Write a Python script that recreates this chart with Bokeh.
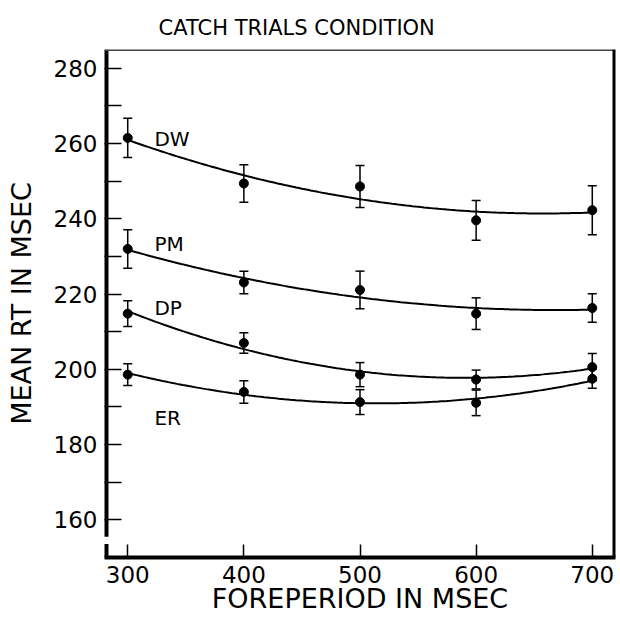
import numpy as np
from bokeh.plotting import figure
from bokeh.models import Range1d, FixedTicker, ColumnDataSource, Whisker, TeeHead
from bokeh.core.properties import value
from bokeh.embed import file_html
from bokeh.resources import INLINE

# ---- data ----
foreperiod = [300, 400, 500, 600, 700]
groups = ["DW", "PM", "DP", "ER"]
rt_DW = [261.5, 249.4, 248.6, 239.6, 242.3]
rt_PM = [232.0, 223.1, 221.1, 214.8, 216.3]
rt_DP = [214.8, 207.0, 198.6, 197.3, 200.6]
rt_ER = [198.6, 194.0, 191.3, 191.1, 197.5]
err_DW = [5.2, 5.0, 5.6, 5.3, 6.5]
err_PM = [5.1, 3.0, 5.0, 4.2, 3.8]
err_DP = [3.4, 2.7, 3.2, 2.5, 3.6]
err_ER = [2.9, 3.0, 3.3, 3.4, 2.5]
y_tick_labels = [160, 180, 200, 220, 240, 260, 280]
y_minor = [170, 190, 210, 230, 250, 270]
x_ticks = [300, 400, 500, 600, 700]

means = {"DW": rt_DW, "PM": rt_PM, "DP": rt_DP, "ER": rt_ER}
errs = {"DW": err_DW, "PM": err_PM, "DP": err_DP, "ER": err_ER}

# label placement (layout, not data)
label_x = 323
label_y = {"DW": 261.3, "PM": 233.4, "DP": 216.2, "ER": 187.2}

FONT = "DejaVu Sans"
X0, X1, Y0, Y1 = 280, 720, 150, 285
BREAK_LO, BREAK_HI = 153.6, 155.5

p = figure(width=620, height=620, output_backend="svg", toolbar_location=None,
           x_range=Range1d(X0, X1), y_range=Range1d(Y0, Y1),
           min_border_left=104, min_border_right=5, min_border_top=49, min_border_bottom=63)
p.grid.visible = False
p.background_fill_color = "white"
p.border_fill_color = "white"
p.outline_line_color = None

p.title.text = "CATCH TRIALS CONDITION"
p.title.text_font = FONT
p.title.text_font_size = "21px"
p.title.text_font_style = "normal"
p.title.text_color = "black"
p.title.align = "left"
p.title.offset = 54
p.title.standoff = 20

for ax in (p.xaxis[0], p.yaxis[0]):
    ax.major_tick_out = 0
    ax.minor_tick_out = 0
    ax.major_tick_line_width = 1.5
    ax.minor_tick_line_width = 1.5
    ax.major_label_text_font = FONT
    ax.major_label_text_font_size = "23px"
    ax.major_label_text_color = "black"
    ax.axis_label_text_font = FONT
    ax.axis_label_text_font_style = "normal"
    ax.axis_label_text_color = "black"

p.xaxis.axis_line_width = 4
p.xaxis.ticker = FixedTicker(ticks=x_ticks)
p.xaxis.major_tick_in = 13
p.xaxis.minor_tick_in = 0
p.xaxis.major_label_standoff = 8
p.xaxis.axis_label = "FOREPERIOD IN MSEC"
p.xaxis.axis_label_text_font_size = "27px"
p.xaxis.axis_label_standoff = -3

p.yaxis.axis_line_color = None
p.yaxis.ticker = FixedTicker(ticks=y_tick_labels, minor_ticks=y_minor)
p.yaxis.major_tick_in = 17
p.yaxis.minor_tick_in = 17
p.yaxis.major_label_standoff = 7
p.yaxis.axis_label = "MEAN RT IN MSEC"
p.yaxis.axis_label_text_font_size = "27px"
p.yaxis.axis_label_standoff = 14

# frame: broken left axis, thin top border, right border
p.segment(x0=[X0, X0], y0=[Y0, BREAK_HI], x1=[X0, X0], y1=[BREAK_LO, Y1],
          line_color="black", line_width=8)
p.segment(x0=[X0], y0=[Y1], x1=[X1], y1=[Y1], line_color="#444444", line_width=3)
p.segment(x0=[X1], y0=[Y0], x1=[X1], y1=[Y1], line_color="black", line_width=6)

xs = np.linspace(300, 700, 161)
for g in groups:
    m = means[g]
    e = errs[g]
    coef = np.polyfit(foreperiod, m, 2)
    p.line(xs, np.polyval(coef, xs), line_color="black", line_width=2)
    src = ColumnDataSource(dict(x=foreperiod, y=m,
                                lo=[a - b for a, b in zip(m, e)],
                                hi=[a + b for a, b in zip(m, e)]))
    w = Whisker(base="x", upper="hi", lower="lo", source=src, line_width=1.5, line_color="black",
                upper_head=TeeHead(size=9, line_width=1.5, line_color="black"),
                lower_head=TeeHead(size=9, line_width=1.5, line_color="black"))
    p.add_layout(w)
    p.scatter("x", "y", source=src, size=9, color="black")
    p.text(x=[label_x], y=[label_y[g]], text=[g], text_font=value(FONT), text_font_size="20px",
           text_align="left", text_baseline="alphabetic", text_color="black")

open("out.html", "w").write(file_html(p, INLINE))
